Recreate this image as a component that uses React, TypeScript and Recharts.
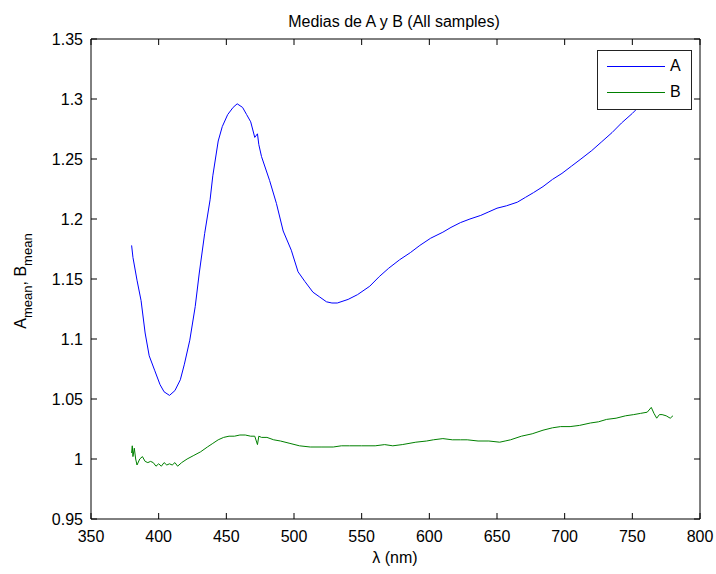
import React from 'react';
import { LineChart, Line, XAxis, YAxis, Legend, Label, ReferenceLine } from 'recharts';

// wavelength (nm) / mean values
const wavelengthA = [380, 381, 384, 387, 390, 393, 397, 401, 404, 408, 412, 416, 419, 423, 427, 430, 434, 438, 440, 444, 447, 451, 455, 458, 462, 465, 468, 471, 473, 474, 476, 482, 487, 492, 498, 503, 508, 514, 519, 524, 528, 532, 540, 547, 556, 563, 570, 578, 586, 593, 601, 610, 616, 623, 630, 638, 644, 650, 657, 665, 671, 677, 684, 691, 698, 705, 712, 720, 727, 735, 742, 750, 757, 765, 772, 780];
const meanA = [1.178, 1.168, 1.149, 1.132, 1.105, 1.086, 1.074, 1.062, 1.056, 1.053, 1.057, 1.066, 1.079, 1.099, 1.127, 1.155, 1.188, 1.216, 1.236, 1.265, 1.277, 1.287, 1.293, 1.296, 1.293, 1.287, 1.281, 1.268, 1.271, 1.262, 1.252, 1.232, 1.213, 1.19, 1.174, 1.156, 1.148, 1.139, 1.135, 1.131, 1.13, 1.13, 1.133, 1.137, 1.144, 1.152, 1.159, 1.166, 1.172, 1.178, 1.184, 1.189, 1.193, 1.197, 1.2, 1.203, 1.206, 1.209, 1.211, 1.214, 1.218, 1.222, 1.227, 1.233, 1.238, 1.244, 1.25, 1.257, 1.264, 1.272, 1.28, 1.288, 1.296, 1.305, 1.313, 1.321];

const wavelengthB = [380, 380.5, 381, 382, 383, 384, 386, 388, 390, 392, 394, 396, 398, 400, 402, 404, 406, 408, 410, 412, 414, 417, 421, 426, 431, 436, 440, 444, 448, 452, 456, 460, 464, 468, 471, 473, 474, 476, 480, 485, 490, 497, 504, 512, 520, 529, 535, 541, 550, 560, 567, 573, 580, 590, 598, 603, 610, 617, 623, 628, 636, 644, 652, 656, 660, 668, 676, 684, 691, 697, 704, 711, 719, 725, 731, 738, 745, 751, 756, 761, 764, 766, 768, 770, 772, 775, 778, 780];
const meanB = [1.005, 1.011, 1.002, 1.009, 1.0, 0.995, 1.0, 1.002, 0.998, 0.997, 0.998, 0.997, 0.994, 0.996, 0.994, 0.997, 0.995, 0.996, 0.995, 0.997, 0.994, 0.997, 1.0, 1.003, 1.006, 1.01, 1.013, 1.016, 1.018, 1.019, 1.019, 1.02, 1.02, 1.019, 1.019, 1.012, 1.019, 1.018, 1.018, 1.016, 1.015, 1.013, 1.011, 1.01, 1.01, 1.01, 1.011, 1.011, 1.011, 1.011, 1.012, 1.011, 1.012, 1.014, 1.015, 1.016, 1.017, 1.016, 1.016, 1.016, 1.015, 1.015, 1.014, 1.015, 1.016, 1.019, 1.021, 1.024, 1.026, 1.027, 1.027, 1.028, 1.03, 1.031, 1.033, 1.034, 1.036, 1.037, 1.038, 1.039, 1.043, 1.038, 1.034, 1.037, 1.037, 1.036, 1.034, 1.036];

const xTicks = [350, 400, 450, 500, 550, 600, 650, 700, 750, 800];
const yTicks = [0.95, 1, 1.05, 1.1, 1.15, 1.2, 1.25, 1.3, 1.35];

const seriesA = wavelengthA.map((x, i) => ({ x, v: meanA[i] }));
const seriesB = wavelengthB.map((x, i) => ({ x, v: meanB[i] }));

// plot box edges (follow from the chart margins below)
const PLOT_TOP = 39;
const PLOT_BOTTOM = 519;
const PLOT_LEFT = 91;
const PLOT_RIGHT = 700;
const TICK = 6;

// MATLAB style: ticks point inwards, on both sides of the box
const BottomTick = ({ x, payload }: any) => (
  <g>
    <line x1={x} x2={x} y1={PLOT_BOTTOM} y2={PLOT_BOTTOM - TICK} stroke="#000" />
    <line x1={x} x2={x} y1={PLOT_TOP} y2={PLOT_TOP + TICK} stroke="#000" />
    <text x={x} y={PLOT_BOTTOM + 23} textAnchor="middle" fontSize={16} fill="#000">{payload.value}</text>
  </g>
);

const LeftTick = ({ y, payload }: any) => (
  <g>
    <line x1={PLOT_LEFT} x2={PLOT_LEFT + TICK} y1={y} y2={y} stroke="#000" />
    <line x1={PLOT_RIGHT} x2={PLOT_RIGHT - TICK} y1={y} y2={y} stroke="#000" />
    <text x={PLOT_LEFT - 8} y={y + 6} textAnchor="end" fontSize={16} fill="#000">{payload.value}</text>
  </g>
);

const renderLegend = ({ payload }: any) => (
  <div style={{ width: 95, height: 60, border: '1px solid #222', background: '#fff', boxSizing: 'border-box', position: 'relative' }}>
    {(payload || []).map((p: any, i: number) => (
      <div key={p.value} style={{ position: 'absolute', left: 9, top: 7 + i * 26, height: 16, display: 'flex', alignItems: 'center' }}>
        <svg width={58} height={16}>
          <line x1={0} x2={58} y1={8.5} y2={8.5} stroke={p.color} strokeWidth={1.2} />
        </svg>
        <span style={{ fontSize: 16, marginLeft: 5, lineHeight: '16px', color: '#000' }}>{p.value}</span>
      </div>
    ))}
  </div>
);

export default function App() {
  return (
    <div style={{ position: 'absolute', left: 0, top: 0, width: 716, height: 574, background: '#fff', fontFamily: '"Liberation Sans", Arial, sans-serif' }}>
      <LineChart width={716} height={574} margin={{ top: PLOT_TOP, right: 716 - PLOT_RIGHT, bottom: 25, left: 41 }}>
        <XAxis
          xAxisId="bottom"
          dataKey="x"
          type="number"
          domain={[350, 800]}
          ticks={xTicks}
          allowDataOverflow
          height={30}
          tick={<BottomTick />}
          tickLine={false}
          axisLine={{ stroke: '#000' }}
        >
          <Label content={() => (
            <text x={395} y={563} textAnchor="middle" fontSize={16} fill="#000">λ (nm)</text>
          )} />
          <Label content={() => (
            <text x={394} y={27} textAnchor="middle" fontSize={16} fill="#000">Medias de A y B (All samples)</text>
          )} />
        </XAxis>
        <YAxis
          yAxisId="left"
          type="number"
          domain={[0.95, 1.35]}
          ticks={yTicks}
          allowDataOverflow
          width={50}
          tick={<LeftTick />}
          tickLine={false}
          axisLine={{ stroke: '#000' }}
        >
          <Label content={() => (
            <text x={26} y={281} textAnchor="middle" fontSize={16} fill="#000" transform="rotate(-90 26 281)">
              A<tspan fontSize={13} dy={6}>mean</tspan><tspan dy={-6}>, B</tspan><tspan fontSize={13} dy={6}>mean</tspan>
            </text>
          )} />
        </YAxis>
        <ReferenceLine xAxisId="bottom" yAxisId="left" y={1.35} stroke="#000" ifOverflow="extendDomain" />
        <ReferenceLine xAxisId="bottom" yAxisId="left" x={800} stroke="#000" ifOverflow="extendDomain" />
        <Legend
          layout="vertical"
          align="center"
          verticalAlign="middle"
          content={renderLegend}
          wrapperStyle={{ left: 597, top: 50, width: 95, height: 60 }}
        />
        <Line
          data={seriesA}
          dataKey="v"
          name="A"
          xAxisId="bottom"
          yAxisId="left"
          type="linear"
          stroke="#0000FF"
          strokeWidth={1}
          dot={false}
          isAnimationActive={false}
        />
        <Line
          data={seriesB}
          dataKey="v"
          name="B"
          xAxisId="bottom"
          yAxisId="left"
          type="linear"
          stroke="#008000"
          strokeWidth={1}
          dot={false}
          isAnimationActive={false}
        />
      </LineChart>
    </div>
  );
}
